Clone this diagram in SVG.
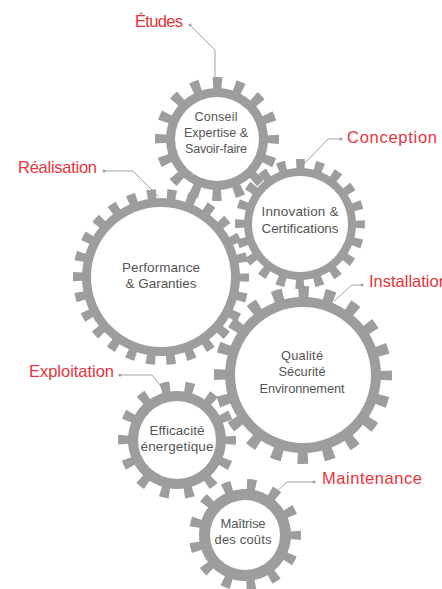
<svg xmlns="http://www.w3.org/2000/svg" width="442" height="589" viewBox="0 0 442 589">
<style>
.teeth{fill:none;stroke:#9d9d9d;stroke-linecap:butt}
.ring{fill:#9d9d9d}
.inner{fill:#ffffff}
.gt{font-family:"Liberation Sans",Arial,sans-serif;fill:#555555;text-anchor:middle}
.lb{font-family:"Liberation Sans",Arial,sans-serif;font-size:16.5px;fill:#e8333d}
.con{fill:none;stroke:#a3a3a3;stroke-width:1}
.dot{fill:#a3a3a3}
</style>
<rect width="442" height="589" fill="#ffffff"/>
<g id="connectors">
<polyline class="con" points="190,25 215,50 215,80"/><circle class="dot" cx="190" cy="25" r="1.6"/>
<polyline class="con" points="341,139 328,139 304,164"/><circle class="dot" cx="341" cy="139" r="1.6"/>
<polyline class="con" points="104,171 133,171 159,197"/><circle class="dot" cx="104" cy="171" r="1.6"/>
<polyline class="con" points="362,285 352,285 334,301"/><circle class="dot" cx="362" cy="285" r="1.6"/>
<polyline class="con" points="120,375 152,375 164,390"/><circle class="dot" cx="120" cy="375" r="1.6"/>
<polyline class="con" points="314,482 287,482 273,495"/><circle class="dot" cx="314" cy="482" r="1.6"/>
</g>
<g id="labels">
<text id="label-etudes" class="lb" x="135" y="27" textLength="48" lengthAdjust="spacing">Études</text>
<text id="label-conception" class="lb" x="347" y="142.5" textLength="90" lengthAdjust="spacing">Conception</text>
<text id="label-realisation" class="lb" x="18" y="173" textLength="79" lengthAdjust="spacing">Réalisation</text>
<text id="label-installation" class="lb" x="369" y="287">Installation</text>
<text id="label-exploitation" class="lb" x="29" y="377" textLength="85" lengthAdjust="spacing">Exploitation</text>
<text id="label-maintenance" class="lb" x="322" y="483.5" textLength="100" lengthAdjust="spacing">Maintenance</text>
</g>
<g id="gear-conseil">
<circle class="teeth" cx="217" cy="139" r="56" stroke-width="12" stroke-dasharray="9 12.991" stroke-dashoffset="4.5"/>
<circle class="ring" cx="217" cy="139" r="51"/>
<circle class="inner" cx="217" cy="139" r="42"/>
<text class="gt" font-size="12.5" x="216" y="121" textLength="43" lengthAdjust="spacing">Conseil</text>
<text class="gt" font-size="12.5" x="216" y="137" textLength="64" lengthAdjust="spacing">Expertise &amp;</text>
<text class="gt" font-size="12.5" x="216" y="153" textLength="62" lengthAdjust="spacing">Savoir-faire</text>
</g>
<g id="gear-innovation">
<circle class="teeth" cx="300" cy="224" r="60" stroke-width="10" stroke-dasharray="8.5 10.350" stroke-dashoffset="4.25"/>
<circle class="ring" cx="300" cy="224" r="56"/>
<circle class="inner" cx="300" cy="224" r="48"/>
<text class="gt" font-size="13.5" x="300" y="216" textLength="77" lengthAdjust="spacing">Innovation &amp;</text>
<text class="gt" font-size="13.5" x="300" y="233" textLength="77" lengthAdjust="spacing">Certifications</text>
</g>
<g id="gear-performance">
<circle class="teeth" cx="161" cy="277" r="83" stroke-width="10" stroke-dasharray="9 11.058" stroke-dashoffset="4.5"/>
<circle class="ring" cx="161" cy="277" r="79"/>
<circle class="inner" cx="161" cy="277" r="70"/>
<text class="gt" font-size="13.5" x="161" y="272" textLength="78" lengthAdjust="spacing">Performance</text>
<text class="gt" font-size="13.5" x="161" y="288" textLength="71" lengthAdjust="spacing">&amp; Garanties</text>
</g>
<g id="gear-qualite">
<circle class="teeth" cx="303" cy="375" r="83" stroke-width="12" stroke-dasharray="10.5 15.575" stroke-dashoffset="5.25"/>
<circle class="ring" cx="303" cy="375" r="78"/>
<circle class="inner" cx="303" cy="375" r="68"/>
<text class="gt" font-size="12.8" x="302" y="359.5" textLength="42" lengthAdjust="spacing">Qualité</text>
<text class="gt" font-size="12.8" x="302" y="376" textLength="47" lengthAdjust="spacing">Sécurité</text>
<text class="gt" font-size="12.8" x="302" y="392.5" textLength="85" lengthAdjust="spacing">Environnement</text>
</g>
<g id="gear-efficacite">
<circle class="teeth" cx="177" cy="440" r="53.5" stroke-width="11" stroke-dasharray="9 15.011" stroke-dashoffset="4.5"/>
<circle class="ring" cx="177" cy="440" r="49"/>
<circle class="inner" cx="177" cy="440" r="39"/>
<text class="gt" font-size="13.5" x="177" y="435" textLength="55" lengthAdjust="spacing">Efficacité</text>
<text class="gt" font-size="13.5" x="177" y="451" textLength="73" lengthAdjust="spacing">énergetique</text>
</g>
<g id="gear-maitrise">
<circle class="teeth" cx="245" cy="535" r="50.5" stroke-width="11" stroke-dasharray="9 15.408" stroke-dashoffset="4.5"/>
<circle class="ring" cx="245" cy="535" r="46"/>
<circle class="inner" cx="245" cy="535" r="35"/>
<text class="gt" font-size="13" x="243" y="528" textLength="45" lengthAdjust="spacing">Maîtrise</text>
<text class="gt" font-size="13" x="243" y="544" textLength="57" lengthAdjust="spacing">des coûts</text>
</g>
</svg>
